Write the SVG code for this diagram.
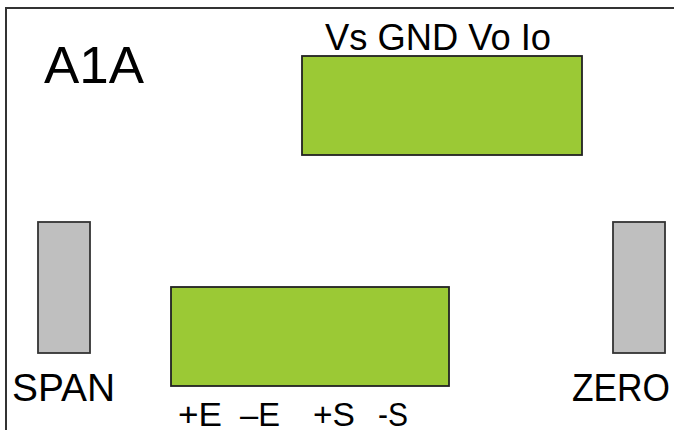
<svg xmlns="http://www.w3.org/2000/svg" width="674" height="430" viewBox="0 0 674 430">
<style>
.lbl{font-family:"Liberation Sans",Arial,sans-serif;fill:#000}
.green{fill:#9BC935;stroke:#222;stroke-width:1.8}
.gray{fill:#BFBFBF;stroke:#333;stroke-width:1.8}
</style>
<rect width="674" height="430" fill="#fff"/>
<g id="border">
<path d="M6 431 V8 H675" fill="none" stroke="#333" stroke-width="2"/>
</g>
<g id="title"><text class="lbl" x="44" y="83" font-size="52" textLength="100" lengthAdjust="spacingAndGlyphs">A1A</text></g>
<g id="top-connector">
<rect class="green" x="302" y="56" width="280" height="99"/>
<text class="lbl" x="325" y="50" font-size="36" textLength="226" lengthAdjust="spacingAndGlyphs">Vs GND Vo Io</text>
</g>
<g id="bottom-connector">
<rect class="green" x="171" y="287" width="278" height="99"/>
<text class="lbl" x="178" y="426" font-size="33" textLength="44" lengthAdjust="spacingAndGlyphs">+E</text>
<text class="lbl" x="240" y="426" font-size="33" textLength="40" lengthAdjust="spacingAndGlyphs">–E</text>
<text class="lbl" x="313" y="426" font-size="33" textLength="42" lengthAdjust="spacingAndGlyphs">+S</text>
<text class="lbl" x="378" y="426" font-size="33" textLength="30" lengthAdjust="spacingAndGlyphs">-S</text>
</g>
<g id="span">
<rect class="gray" x="38" y="222" width="52" height="131"/>
<text class="lbl" x="12" y="401" font-size="39" textLength="103" lengthAdjust="spacingAndGlyphs">SPAN</text>
</g>
<g id="zero">
<rect class="gray" x="613" y="222" width="52" height="131"/>
<text class="lbl" x="572" y="401" font-size="39" textLength="98" lengthAdjust="spacingAndGlyphs">ZERO</text>
</g>
<g id="connectors"/>
</svg>
